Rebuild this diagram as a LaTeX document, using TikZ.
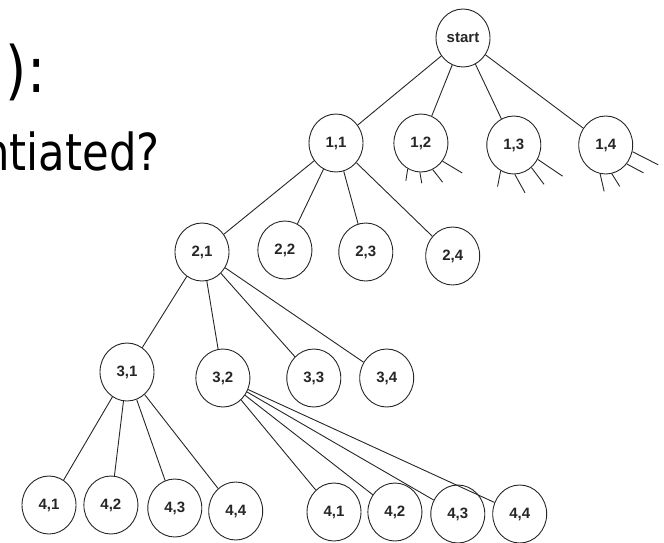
\documentclass[tikz,border=0pt]{standalone}
\usepackage{fontspec}
\setmainfont{DejaVu Sans}
\newfontfamily\lblfont{Liberation Sans}
\usepackage{graphicx}
\usepackage{tikz}
\usetikzlibrary{shapes.geometric,positioning}

\begin{document}
\begin{tikzpicture}[x=1pt, y=-1pt, line width=0.9pt, color=black!85,
  st/.style={ellipse, draw, minimum width=54pt, minimum height=58pt, inner sep=0pt,
             font=\lblfont\bfseries\fontsize{15}{15}\selectfont},
  txt/.style={anchor=base east, inner sep=0pt, text=black}]
\useasboundingbox (0,0) rectangle (664,542);
\begin{scope}
  \clip (0,0) rectangle (664,542);
  \node[txt, font=\fontsize{64}{64}\selectfont] (hd) at (46,92) {\scalebox{0.85}[1]{T\kern0.12em):}};
  \node[txt, font=\fontsize{51}{51}\selectfont] (qs) at (160,170) {\scalebox{0.85}[1]{instantiated?}};
\end{scope}
% root and first level
\node[st] (s) at (463,38) {start};
\node[st] (a1) at (336,143) {1,1};
\node[st, right=30pt of a1] (a2) {1,2};
\node[st, right=38pt of a2, yshift=-2pt] (a3) {1,3};
\node[st, right=37pt of a3] (a4) {1,4};
% second level
\node[st] (b1) at (202,252) {2,1};
\node[st, right=28pt of b1, yshift=2pt] (b2) {2,2};
\node[st, right=26pt of b2, yshift=-2pt] (b3) {2,3};
\node[st, right=32pt of b3, yshift=-4pt] (b4) {2,4};
% third level
\node[st] (c1) at (127,372) {3,1};
\node[st, right=41pt of c1, yshift=-6pt] (c2) {3,2};
\node[st, right=36pt of c2] (c3) {3,3};
\node[st, right=18pt of c3] (c4) {3,4};
% fourth level, below 3,1 and below 3,2
\node[st] (d1) at (49,505) {4,1};
\node[st, right=7pt of d1] (d2) {4,2};
\node[st, right=9pt of d2, yshift=-3pt] (d3) {4,3};
\node[st, right=6pt of d3, yshift=-3pt] (d4) {4,4};
\node[st] (e1) at (334,512) {4,1};
\node[st, right=6pt of e1] (e2) {4,2};
\node[st, right=8pt of e2, yshift=-2pt] (e3) {4,3};
\node[st, right=7pt of e3] (e4) {4,4};
\draw (s) -- (a1); \draw (s) -- (a2); \draw (s) -- (a3); \draw (s) -- (a4);
\draw (a1) -- (b1); \draw (a1) -- (b2); \draw (a1) -- (b3); \draw (a1) -- (b4);
\draw (b1) -- (c1); \draw (b1) -- (c2); \draw (b1) -- (c3); \draw (b1) -- (c4);
\draw (c1) -- (d1); \draw (c1) -- (d2); \draw (c1) -- (d3); \draw (c1) -- (d4);
\draw (c2) -- (e1); \draw (c2) -- (e2); \draw (c2) -- (e3); \draw (c2) -- (e4);
% unexpanded branches
\draw (a2.-117) -- ++(-99:12pt); \draw (a2.-92) -- ++(-80:11pt);
\draw (a2.-66) -- ++(-52:16pt);  \draw (a2.-40) -- ++(-31:23pt);
\draw (a3.-117) -- ++(-101:16pt); \draw (a3.-88) -- ++(-61:21pt);
\draw (a3.-52) -- ++(-53:21pt);   \draw (a3.-31) -- ++(-34:30pt);
\draw (a4.-101) -- ++(-77:18pt); \draw (a4.-78) -- ++(-58:15pt);
\draw (a4.-42) -- ++(-28:19pt);  \draw (a4.-14) -- ++(-27:29pt);
\end{tikzpicture}
\end{document}
